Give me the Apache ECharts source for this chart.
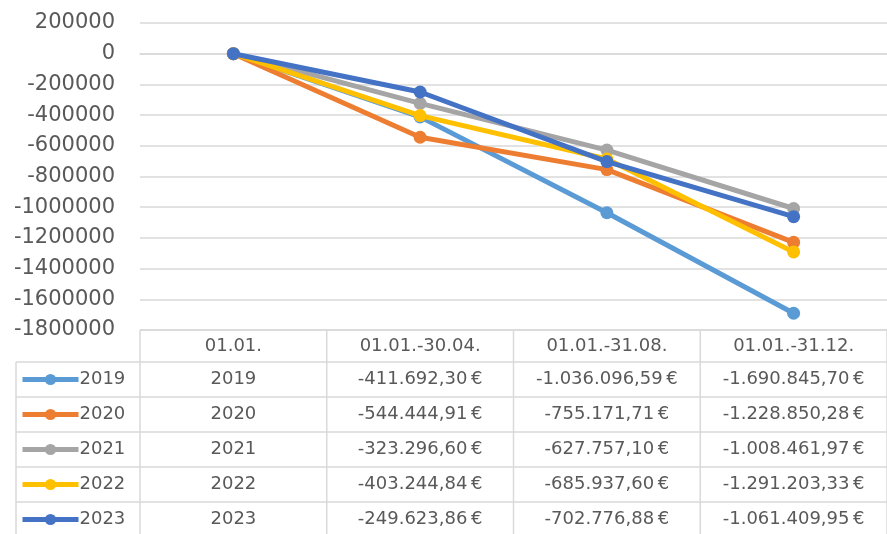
<!DOCTYPE html>
<html>
<head>
<meta charset="utf-8">
<script src="https://cdn.jsdelivr.net/npm/echarts@6/dist/echarts.min.js"></script>
<style>
  html, body { margin: 0; padding: 0; background: #fff; }
  #chart { width: 887px; height: 534px; }
</style>
</head>
<body>
<div id="chart"></div>
<script>
// periods on the x axis (header row of the data table)
const periods = ["01.01.", "01.01.-30.04.", "01.01.-31.08.", "01.01.-31.12."];
const years = ["2019", "2020", "2021", "2022", "2023"];
const colors = ["#5B9BD5", "#ED7D31", "#A5A5A5", "#FFC000", "#4472C4"];

// cumulative values per year (first cell holds text in the sheet, plotted as 0)
const v2019 = [0, -411692.30, -1036096.59, -1690845.70];
const v2020 = [0, -544444.91, -755171.71, -1228850.28];
const v2021 = [0, -323296.60, -627757.10, -1008461.97];
const v2022 = [0, -403244.84, -685937.60, -1291203.33];
const v2023 = [0, -249623.86, -702776.88, -1061409.95];
const values = [v2019, v2020, v2021, v2022, v2023];

const yMin = -1800000, yMax = 200000, yStep = 200000;

const font = "DejaVu Sans";
const textColor = "#595959";
const lineGray = "#D9D9D9";

// table layout
const tableTop = 330, headerH = 32, rowH = 35;
const tableLeft = 16;
const gridLeft = 140, gridW = 756;
const legendItemH = 18; // legend row height incl. text

function euro(v) {
  const neg = v < 0;
  const parts = Math.abs(v).toFixed(2).split(".");
  const int = parts[0].replace(/\B(?=(\d{3})+(?!\d))/g, ".");
  return (neg ? "-" : "") + int + "," + parts[1] + "\u2009€";
}

const chart = echarts.init(document.getElementById("chart"));

chart.setOption({
  animation: false,
  textStyle: { fontFamily: font },
  grid: { left: gridLeft, top: 23, width: gridW, height: tableTop - 23 },
  xAxis: {
    type: "category",
    data: periods,
    boundaryGap: true,
    axisLine: { show: true, lineStyle: { color: lineGray, width: 1.5 } },
    axisTick: { show: false },
    axisLabel: { color: textColor, fontSize: 18, fontFamily: font, margin: 7, interval: 0 }
  },
  yAxis: {
    type: "value",
    min: yMin, max: yMax, interval: yStep,
    axisLine: { show: false },
    axisTick: { show: false },
    splitLine: { lineStyle: { color: lineGray, width: 1.5 } },
    axisLabel: {
      color: textColor, fontSize: 21, fontFamily: font, margin: 25,
      formatter: v => String(v)
    }
  },
  legend: {
    orient: "vertical",
    left: 20,
    top: tableTop + headerH + (rowH - legendItemH) / 2,
    height: rowH * years.length,
    padding: 0,
    itemWidth: 56,
    itemHeight: 14,
    itemGap: rowH - legendItemH,
    lineStyle: { width: 5 },
    textStyle: {
      color: textColor, fontSize: 18, fontFamily: font,
      padding: [0, 0, 0, -4]
    },
    data: years
  },
  series: years.map((y, i) => ({
    name: y,
    type: "line",
    data: values[i],
    symbol: "circle",
    symbolSize: 13,
    lineStyle: { width: 5, color: colors[i] },
    itemStyle: { color: colors[i] },
    z: 2 + i
  }))
});

// data table under the plot, positioned from the category axis
const centers = periods.map((p, j) => chart.convertToPixel({ xAxisIndex: 0 }, j));
const colW = centers.length > 1 ? centers[1] - centers[0] : 189;
const rightEdge = centers[centers.length - 1] + colW / 2;
const bottom = tableTop + headerH + rowH * years.length;
const g = [];
const ln = (x1, y1, x2, y2) => g.push({
  type: "line", silent: true,
  shape: { x1, y1, x2, y2 },
  style: { stroke: lineGray, lineWidth: 1.5 }
});
// header row borders
ln(gridLeft, tableTop, rightEdge, tableTop);
ln(gridLeft, tableTop, gridLeft, bottom);
centers.forEach(c => ln(c + colW / 2, tableTop, c + colW / 2, bottom));
// body rows
for (let i = 0; i <= years.length; i++) {
  const yy = tableTop + headerH + rowH * i;
  ln(tableLeft, yy, rightEdge, yy);
}
ln(tableLeft, tableTop + headerH, tableLeft, bottom);
// cell texts
years.forEach((y, i) => {
  const cy = tableTop + headerH + rowH * i + rowH / 2;
  values[i].forEach((v, j) => {
    g.push({
      type: "text", silent: true,
      x: centers[j], y: cy,
      style: {
        text: j === 0 ? y : euro(v),
        fill: textColor, font: "18px '" + font + "'",
        align: "center", verticalAlign: "middle"
      }
    });
  });
});
chart.setOption({ graphic: g });
</script>
</body>
</html>
